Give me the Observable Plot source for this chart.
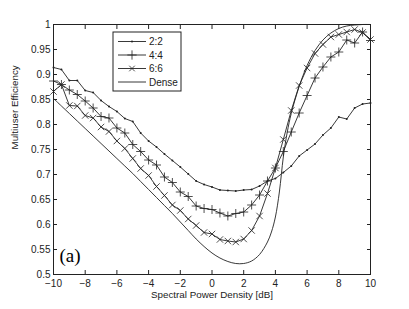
<!DOCTYPE html>
<html>
<head>
<meta charset="utf-8">
<script src="https://cdn.jsdelivr.net/npm/d3@7"></script>
<script src="https://cdn.jsdelivr.net/npm/@observablehq/plot@0.6"></script>
<style>
  html, body { margin: 0; padding: 0; background: #fff; }
  #chart { width: 409px; height: 309px; }
</style>
</head>
<body>
<div id="chart"></div>
<script>
// ---- data ----
const snr = [-10, -9.5, -9, -8.5, -8, -7.5, -7, -6.5, -6, -5.5, -5, -4.5, -4, -3.5, -3, -2.5, -2, -1.5, -1, -0.5,
             0, 0.5, 1, 1.5, 2, 2.5, 3, 3.5, 4, 4.5, 5, 5.5, 6, 6.5, 7, 7.5, 8, 8.5, 9, 9.5, 10];

const eff22 = [0.914, 0.910, 0.888, 0.888, 0.868, 0.864, 0.848, 0.836, 0.826, 0.812, 0.806, 0.783, 0.767, 0.755, 0.741, 0.728, 0.715, 0.701, 0.687, 0.680,
               0.675, 0.669, 0.668, 0.667, 0.669, 0.670, 0.677, 0.687, 0.692, 0.704, 0.717, 0.737, 0.749, 0.761, 0.779, 0.793, 0.815, 0.811, 0.833, 0.841, 0.843];

const eff44 = [0.887, 0.880, 0.869, 0.860, 0.847, 0.833, 0.816, 0.813, 0.793, 0.783, 0.760, 0.746, 0.729, 0.719, 0.695, 0.684, 0.665, 0.656, 0.637, 0.632,
               0.630, 0.623, 0.617, 0.622, 0.625, 0.639, 0.659, 0.687, 0.713, 0.746, 0.785, 0.823, 0.858, 0.893, 0.915, 0.935, 0.945, 0.969, 0.963, 0.985, 0.968];

const eff66 = [0.866, 0.880, 0.838, 0.837, 0.818, 0.813, 0.795, 0.786, 0.767, 0.752, 0.732, 0.712, 0.698, 0.676, 0.658, 0.639, 0.628, 0.611, 0.598, 0.584,
               0.581, 0.570, 0.567, 0.565, 0.571, 0.588, 0.617, 0.662, 0.713, 0.770, 0.828, 0.878, 0.913, 0.942, 0.960, 0.975, 0.980, 0.985, 0.990, 0.984, 0.970];

const denseX = [-10, -9.5, -9, -8.5, -8, -7.5, -7, -6.5, -6, -5.5, -5, -4.5, -4, -3.5, -3, -2.5, -2, -1.5, -1, -0.5,
                0, 0.5, 1, 1.5, 2, 2.5, 3, 3.5, 3.75, 4, 4.25, 4.5, 4.75, 5, 5.5, 6, 6.5, 7, 7.5, 8, 8.5, 9, 9.5, 10];
const denseY = [0.852, 0.837, 0.822, 0.807, 0.792, 0.777, 0.762, 0.747, 0.732, 0.717, 0.702, 0.686, 0.670, 0.654, 0.638, 0.622, 0.605, 0.588, 0.571, 0.556,
                0.543, 0.533, 0.526, 0.522, 0.522, 0.527, 0.540, 0.565, 0.585, 0.615, 0.665, 0.735, 0.785, 0.822, 0.876, 0.918, 0.948, 0.969, 0.983, 0.992, 0.997, 0.999, 1.0, 1.0];

const seriesNames = ["2:2", "4:4", "6:6", "Dense"];
const xTicks = [-10, -8, -6, -4, -2, 0, 2, 4, 6, 8, 10];
const yTicks = [0.5, 0.55, 0.6, 0.65, 0.7, 0.75, 0.8, 0.85, 0.9, 0.95, 1];
const xLabel = "Spectral Power Density [dB]";
const yLabel = "Multiuser Efficiency";
const panelTag = "(a)";

// ---- tables ----
const rows22 = snr.map((x, i) => ({x, y: eff22[i]}));
const rows44 = snr.map((x, i) => ({x, y: eff44[i]}));
const rows66 = snr.map((x, i) => ({x, y: eff66[i]}));
const rowsDense = denseX.map((x, i) => ({x, y: denseY[i]}));

const fmtX = d => d < 0 ? "\u2212" + (-d) : String(d);
const fmtY = d => String(+d.toFixed(2));
const ink = "#222";

const chart = Plot.plot({
  width: 409,
  height: 309,
  marginLeft: 53,
  marginRight: 39,
  marginTop: 24,
  marginBottom: 35,
  style: {fontFamily: "'Liberation Sans', Arial, sans-serif", fontSize: "10px", color: ink, background: "#fff"},
  x: {domain: [-10, 10]},
  y: {domain: [0.5, 1]},
  marks: [
    Plot.frame({stroke: ink, strokeWidth: 1}),
    Plot.axisX({ticks: xTicks, tickSize: -4, tickPadding: 9, tickFormat: fmtX, label: null, fontSize: 10}),
    Plot.axisX({anchor: "top", ticks: xTicks, tickSize: -4, tickFormat: () => "", label: null}),
    Plot.axisY({ticks: yTicks, tickSize: -4, tickPadding: 7, tickFormat: fmtY, label: null, fontSize: 10}),
    Plot.axisY({anchor: "right", ticks: yTicks, tickSize: -4, tickFormat: () => "", label: null}),
    Plot.text([xLabel], {frameAnchor: "bottom", dy: 17, lineAnchor: "top", text: d => d, fontSize: 9.8, fill: ink}),
    Plot.text([yLabel], {frameAnchor: "left", dx: -39, rotate: -90, text: d => d, fontSize: 9.8, fill: ink}),
    Plot.text([panelTag], {frameAnchor: "bottom-left", dx: 6, dy: -13, textAnchor: "start", lineAnchor: "bottom",
                           text: d => d, fontFamily: "'Liberation Serif', 'Times New Roman', serif", fontSize: 19, fill: "#000"}),
    Plot.line(rowsDense, {x: "x", y: "y", stroke: ink, strokeWidth: 0.9, curve: "catmull-rom"}),
    Plot.line(rows22, {x: "x", y: "y", stroke: ink, strokeWidth: 0.9}),
    Plot.dot(rows22, {x: "x", y: "y", r: 1.0, fill: ink, stroke: "none"}),
    Plot.line(rows44, {x: "x", y: "y", stroke: ink, strokeWidth: 0.9}),
    Plot.dot(rows44, {x: "x", y: "y", symbol: "plus", r: 3.0, stroke: ink, strokeWidth: 0.8, fill: "none"}),
    Plot.line(rows66, {x: "x", y: "y", stroke: ink, strokeWidth: 0.9}),
    Plot.dot(rows66, {x: "x", y: "y", symbol: "times", r: 3.0, stroke: ink, strokeWidth: 0.8, fill: "none"})
  ]
});

document.getElementById("chart").appendChild(chart);

// ---- legend box (inside the axes, like MATLAB) ----
const svg = d3.select(chart);
const lg = svg.append("g").attr("class", "legend")
  .attr("font-family", "'Liberation Sans', Arial, sans-serif").attr("font-size", 10).attr("text-anchor", "start");
const bx = 113, by = 32, bw = 68, bh = 59;
lg.append("rect").attr("x", bx).attr("y", by).attr("width", bw).attr("height", bh)
  .attr("fill", "#fff").attr("stroke", ink).attr("stroke-width", 1);
const symPlus = d3.symbol(d3.symbolPlus, 30)();
const symTimes = d3.symbol(d3.symbolTimes, 22)();
seriesNames.forEach((name, i) => {
  const yy = by + 9.5 + i * 13.5;
  lg.append("line").attr("x1", bx + 5).attr("x2", bx + 33).attr("y1", yy).attr("y2", yy)
    .attr("stroke", ink).attr("stroke-width", 0.9);
  const cx = bx + 19;
  if (i === 0) lg.append("circle").attr("cx", cx).attr("cy", yy).attr("r", 1.0).attr("fill", ink);
  if (i === 1) lg.append("path").attr("d", symPlus).attr("transform", `translate(${cx},${yy})`).attr("stroke", ink).attr("fill", "none").attr("stroke-width", 0.8);
  if (i === 2) lg.append("path").attr("d", symTimes).attr("transform", `translate(${cx},${yy})`).attr("stroke", ink).attr("fill", "none").attr("stroke-width", 0.8);
  lg.append("text").attr("x", bx + 36).attr("y", yy).attr("dy", "0.35em").attr("fill", ink).attr("text-anchor", "start").text(name);
});
</script>
</body>
</html>
